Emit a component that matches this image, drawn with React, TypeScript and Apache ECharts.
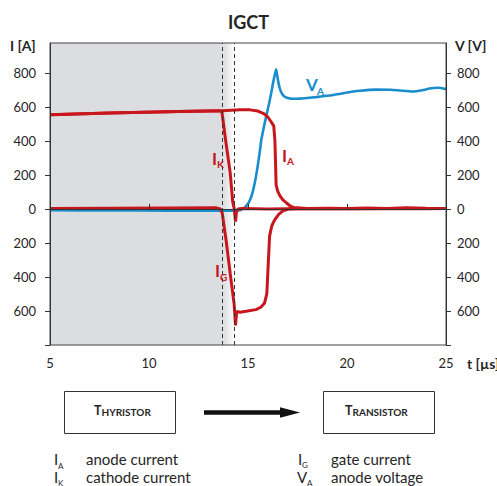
import React, { useEffect, useRef } from "react";
import * as echarts from "echarts";

// ---- Data (time in µs, currents in A, voltage in V) ----
const xTicks = [5, 10, 15, 20, 25];
const yTickValues = [-800, -600, -400, -200, 0, 200, 400, 600, 800];
const yLabelValues = [-600, -400, -200, 0, 200, 400, 600, 800];

const tIA = [5, 8, 11.5, 13.7, 14.6, 15.1, 15.5, 15.8, 16.0, 16.15, 16.3, 16.36, 16.42, 16.5, 16.6, 16.75, 16.93, 17.1, 17.3, 18, 19, 20, 21, 22, 23, 24, 25];
const iA = [554, 563, 573, 577, 583, 582, 575, 560, 540, 515, 488, 400, 140, 105, 80, 55, 36, 20, 8, 2, 4, 3, 5, 3, 6, 4, 3];

const tIK = [5, 8, 11.5, 13.62, 13.68, 13.73, 13.85, 14.1, 14.23, 14.3, 14.37, 14.42, 14.5, 14.7, 16, 18, 20, 22, 24, 25];
const iK = [554, 563, 573, 577, 570, 530, 420, 213, 40, 5, -75, -15, 0, 2, 0, 2, 1, 3, 2, 3];

const tIG = [5, 8, 11, 13.4, 13.6, 13.7, 13.9, 14.1, 14.3, 14.37, 14.43, 14.6, 14.9, 15.4, 15.65, 15.83, 15.95, 16.02, 16.09, 16.2, 16.34, 16.55, 16.76, 17.1, 18, 20, 22, 24, 25];
const iG = [3, 4, 5, 6, 0, -25, -190, -380, -560, -685, -603, -607, -602, -592, -578, -555, -500, -330, -160, -100, -66, -32, -12, 0, 2, 1, 3, 1, 2];

const tVA = [5, 8, 11, 14.3, 14.6, 14.8, 14.95, 15.1, 15.24, 15.38, 15.5, 15.6, 15.67, 15.8, 15.92, 16.05, 16.17, 16.3, 16.42, 16.5, 16.59, 16.7, 16.84, 17.0, 17.26, 17.6, 18.0, 18.44, 19.1, 19.8, 20.63, 21.5, 22.2, 22.65, 23.3, 23.8, 24.17, 24.6, 25];
const vA = [-8, -9, -10, -10, -8, 5, 22, 52, 100, 175, 260, 340, 405, 480, 545, 612, 680, 760, 820, 765, 715, 680, 660, 652, 647, 648, 652, 657, 666, 680, 694, 701, 700, 696, 690, 697, 708, 712, 704];

const shadedStart = 5;
const dashedA = 13.68;
const dashedB = 14.32;

const RED = "#c8161d";
const BLUE = "#1a8dcc";
const GRAY = "#dcdde0";
const TXT = "#262626";
const FONT = "Lato";

const pairs = (t: number[], v: number[]) => t.map((x, i) => [x, v[i]]);

export default function App() {
  const ref = useRef<HTMLDivElement>(null);
  useEffect(() => {
    if (!ref.current) return;
    const chart = echarts.init(ref.current, undefined, { renderer: "svg" });
    const yLabelFmt = (v: number) => (yLabelValues.includes(v) ? String(Math.abs(v)) : "");
    const lineBase = { type: "line", showSymbol: false, symbol: "none", smooth: false, silent: true, clip: true };

    const txt = (text: string, x: number, y: number, size: number, opts: any = {}) => ({
      type: "text",
      x,
      y,
      z: 100,
      silent: true,
      style: {
        text,
        fill: opts.fill || TXT,
        font: `${opts.weight || "normal"} ${size}px ${FONT}`,
        textAlign: opts.align || "left",
        textVerticalAlign: opts.valign || "middle",
      },
    });

    const option: any = {
      animation: false,
      backgroundColor: "#ffffff",
      title: {
        text: "IGCT",
        left: "center",
        top: 8,
        textStyle: { fontFamily: FONT, fontWeight: "bold", fontSize: 18, color: TXT },
      },
      grid: {
        show: true,
        left: 50,
        right: 51,
        top: 43,
        bottom: 141,
        containLabel: false,
        borderColor: "#444",
        borderWidth: 1,
        backgroundColor: "transparent",
        z: 10,
      },
      xAxis: {
        type: "value",
        min: 5,
        max: 25,
        interval: 5,
        z: 10,
        axisLine: { show: true, lineStyle: { color: "#333", width: 1 } },
        axisTick: { show: true, inside: true, length: 5, lineStyle: { color: "#333" }, customValues: xTicks },
        axisLabel: { color: TXT, fontFamily: FONT, fontSize: 13, margin: 11, customValues: xTicks },
        splitLine: { show: false },
      },
      yAxis: [
        {
          type: "value",
          min: -800,
          max: 975,
          interval: 200,
          position: "left",
          z: 10,
          axisLine: { show: true, lineStyle: { color: "#333", width: 1 } },
          axisTick: { show: true, inside: false, length: 5, lineStyle: { color: "#333" }, customValues: yTickValues },
          axisLabel: { color: TXT, fontFamily: FONT, fontSize: 13, margin: 14, formatter: yLabelFmt, customValues: yLabelValues },
          splitLine: { show: false },
        },
        {
          type: "value",
          min: -800,
          max: 975,
          interval: 200,
          position: "right",
          z: 10,
          axisLine: { show: true, lineStyle: { color: "#333", width: 1 } },
          axisTick: { show: true, inside: false, length: 5, lineStyle: { color: "#333" }, customValues: yTickValues },
          axisLabel: { color: TXT, fontFamily: FONT, fontSize: 13, margin: 11, formatter: yLabelFmt, customValues: yLabelValues },
          splitLine: { show: false },
        },
      ],
      series: [
        {
          type: "line",
          name: "shade",
          data: [],
          z: 1,
          silent: true,
          markArea: {
            silent: true,
            data: [
              [{ xAxis: shadedStart, itemStyle: { color: GRAY } }, { xAxis: dashedA }],
              [
                {
                  xAxis: dashedA,
                  itemStyle: {
                    color: new echarts.graphic.LinearGradient(0, 0, 1, 0, [
                      { offset: 0, color: GRAY },
                      { offset: 0.35, color: "#e4e5e7" },
                      { offset: 1, color: "#ffffff" },
                    ]),
                  },
                },
                { xAxis: dashedB },
              ],
            ],
          },
          markLine: {
            silent: true,
            symbol: ["none", "none"],
            label: { show: false },
            lineStyle: { color: "#333", type: [4, 3], width: 1 },
            data: [{ xAxis: dashedA }, { xAxis: dashedB }],
          },
        },
        { ...lineBase, name: "VA", yAxisIndex: 1, z: 3, data: pairs(tVA, vA), lineStyle: { color: BLUE, width: 2.6 }, smooth: 0.2 },
        { ...lineBase, name: "IG", z: 4, data: pairs(tIG, iG), lineStyle: { color: RED, width: 3 } },
        { ...lineBase, name: "IK", z: 4, data: pairs(tIK, iK), lineStyle: { color: RED, width: 3 } },
        { ...lineBase, name: "IA", z: 4, data: pairs(tIA, iA), lineStyle: { color: RED, width: 3 } },
      ],
      graphic: {
        elements: [
          // axis names
          txt("I [A]", 10, 45, 14, { weight: "bold" }),
          txt("V [V]", 455, 45, 14, { weight: "bold" }),
          txt("t [µs]", 467, 363, 14, { weight: "bold" }),
          // curve labels
          txt("I", 212, 158, 17, { weight: "bold", fill: RED }),
          txt("K", 217, 164, 10, { weight: "bold", fill: RED }),
          txt("I", 282, 155, 17, { weight: "bold", fill: RED }),
          txt("A", 287, 161, 10, { weight: "bold", fill: RED }),
          txt("I", 215, 270, 17, { weight: "bold", fill: RED }),
          txt("G", 220, 277, 10, { weight: "bold", fill: RED }),
          txt("V", 306, 84, 17, { weight: "bold", fill: BLUE }),
          txt("A", 317, 91, 10, { weight: "bold", fill: BLUE }),
          // boxes
          { type: "rect", z: 100, shape: { x: 64.5, y: 391.5, width: 111, height: 42 }, style: { fill: "#fff", stroke: "#333", lineWidth: 1 }, silent: true },
          { type: "rect", z: 100, shape: { x: 323.5, y: 391.5, width: 111, height: 42 }, style: { fill: "#fff", stroke: "#333", lineWidth: 1 }, silent: true },
          txt("T", 94, 417, 12.5, { weight: "bold", valign: "bottom" }),
          txt("HYRISTOR", 101.5, 416.6, 10, { weight: "bold", valign: "bottom" }),
          txt("T", 345, 417, 12.5, { weight: "bold", valign: "bottom" }),
          txt("RANSISTOR", 352.5, 416.6, 10, { weight: "bold", valign: "bottom" }),
          // arrow
          { type: "rect", z: 100, shape: { x: 204, y: 410.3, width: 78, height: 4.4 }, style: { fill: "#111" }, silent: true },
          { type: "polygon", z: 100, shape: { points: [[280, 407.3], [300, 412.5], [280, 417.7]] }, style: { fill: "#111" }, silent: true },
          // legend
          txt("I", 54, 459, 15),
          txt("A", 58, 465.5, 8),
          txt("anode current", 86, 459, 15),
          txt("I", 54, 477, 15),
          txt("K", 58, 482.5, 8),
          txt("cathode current", 86, 477, 15),
          txt("I", 298, 459, 15),
          txt("G", 302, 465, 8),
          txt("gate current", 331, 459, 15),
          txt("V", 297, 477, 15),
          txt("A", 307, 482.5, 8),
          txt("anode voltage", 331, 477, 15),
        ],
      },
    };
    chart.setOption(option);
    return () => chart.dispose();
  }, []);
  return (
    <div
      ref={ref}
      style={{ position: "fixed", left: 0, top: 0, width: 497, height: 486, background: "#fff" }}
    />
  );
}
